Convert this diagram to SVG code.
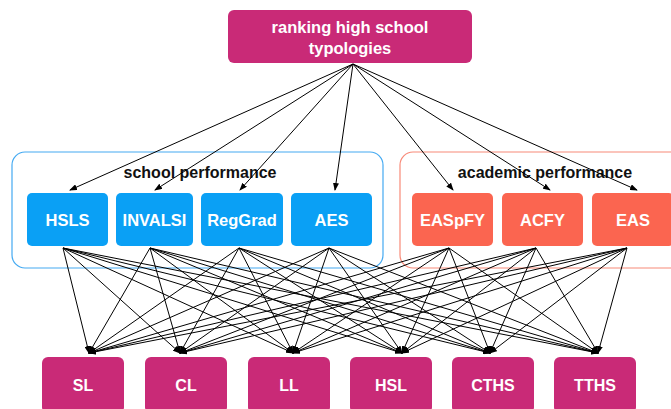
<svg xmlns="http://www.w3.org/2000/svg" width="671" height="409" viewBox="0 0 671 409">
  <style>
    .lbl { font-family: "Liberation Sans", Arial, Helvetica, sans-serif; font-weight: bold; fill: #ffffff; text-anchor: middle; }
    .root { fill: #C92A77; }
    .school { fill: #0AA0F5; }
    .academic { fill: #FB6550; }
    .typ { fill: #C92A77; }
    .title { font-family: "Liberation Sans", Arial, Helvetica, sans-serif; font-weight: bold; font-size: 16px; fill: #111111; text-anchor: middle; }
    .edge { stroke: #000000; stroke-width: 1; fill: none; marker-end: url(#arrow); }
  </style>
  <defs>
    <marker id="arrow" markerUnits="userSpaceOnUse" markerWidth="8" markerHeight="6" refX="7" refY="3" orient="auto">
      <path d="M0,0 L8,3 L0,6 Z" fill="#000000"/>
    </marker>
  </defs>

  <rect width="671" height="409" fill="#ffffff"/>

  <!-- group frames -->
  <g id="grp-school">
    <rect x="12" y="152" width="371" height="116" rx="13" fill="none" stroke="#45AAF2" stroke-width="1.2"/>
    <text class="title" x="200" y="178">school performance</text>
  </g>
  <g id="grp-academic">
    <rect x="400" y="152" width="290" height="116" rx="13" fill="none" stroke="#F88A78" stroke-width="1.2"/>
    <text class="title" x="545" y="178">academic performance</text>
  </g>

  <!-- connectors -->
  <g id="connectors">
    <!-- root to indicators -->
    <line class="edge" x1="353" y1="64" x2="70" y2="190"/>
    <line class="edge" x1="353" y1="64" x2="155" y2="190"/>
    <line class="edge" x1="353" y1="64" x2="240" y2="190"/>
    <line class="edge" x1="353" y1="64" x2="335" y2="190"/>
    <line class="edge" x1="353" y1="64" x2="453" y2="190"/>
    <line class="edge" x1="353" y1="64" x2="550" y2="190"/>
    <line class="edge" x1="353" y1="64" x2="637" y2="190"/>

    <!-- HSLS -->
    <line class="edge" x1="63" y1="248" x2="89" y2="353"/>
    <line class="edge" x1="63" y1="248" x2="180" y2="353"/>
    <line class="edge" x1="63" y1="248" x2="293" y2="353"/>
    <line class="edge" x1="63" y1="248" x2="402" y2="353"/>
    <line class="edge" x1="63" y1="248" x2="490" y2="353"/>
    <line class="edge" x1="63" y1="248" x2="598" y2="353"/>
    <!-- INVALSI -->
    <line class="edge" x1="150" y1="248" x2="89" y2="353"/>
    <line class="edge" x1="150" y1="248" x2="180" y2="353"/>
    <line class="edge" x1="150" y1="248" x2="293" y2="353"/>
    <line class="edge" x1="150" y1="248" x2="402" y2="353"/>
    <line class="edge" x1="150" y1="248" x2="490" y2="353"/>
    <line class="edge" x1="150" y1="248" x2="598" y2="353"/>
    <!-- RegGrad -->
    <line class="edge" x1="239" y1="248" x2="89" y2="353"/>
    <line class="edge" x1="239" y1="248" x2="180" y2="353"/>
    <line class="edge" x1="239" y1="248" x2="293" y2="353"/>
    <line class="edge" x1="239" y1="248" x2="402" y2="353"/>
    <line class="edge" x1="239" y1="248" x2="490" y2="353"/>
    <line class="edge" x1="239" y1="248" x2="598" y2="353"/>
    <!-- AES -->
    <line class="edge" x1="329" y1="248" x2="89" y2="353"/>
    <line class="edge" x1="329" y1="248" x2="180" y2="353"/>
    <line class="edge" x1="329" y1="248" x2="293" y2="353"/>
    <line class="edge" x1="329" y1="248" x2="402" y2="353"/>
    <line class="edge" x1="329" y1="248" x2="490" y2="353"/>
    <line class="edge" x1="329" y1="248" x2="598" y2="353"/>
    <!-- EASpFY -->
    <line class="edge" x1="449" y1="248" x2="89" y2="353"/>
    <line class="edge" x1="449" y1="248" x2="180" y2="353"/>
    <line class="edge" x1="449" y1="248" x2="293" y2="353"/>
    <line class="edge" x1="449" y1="248" x2="402" y2="353"/>
    <line class="edge" x1="449" y1="248" x2="490" y2="353"/>
    <line class="edge" x1="449" y1="248" x2="598" y2="353"/>
    <!-- ACFY -->
    <line class="edge" x1="536" y1="248" x2="89" y2="353"/>
    <line class="edge" x1="536" y1="248" x2="180" y2="353"/>
    <line class="edge" x1="536" y1="248" x2="293" y2="353"/>
    <line class="edge" x1="536" y1="248" x2="402" y2="353"/>
    <line class="edge" x1="536" y1="248" x2="490" y2="353"/>
    <line class="edge" x1="536" y1="248" x2="598" y2="353"/>
    <!-- EAS -->
    <line class="edge" x1="627" y1="248" x2="89" y2="353"/>
    <line class="edge" x1="627" y1="248" x2="180" y2="353"/>
    <line class="edge" x1="627" y1="248" x2="293" y2="353"/>
    <line class="edge" x1="627" y1="248" x2="402" y2="353"/>
    <line class="edge" x1="627" y1="248" x2="490" y2="353"/>
    <line class="edge" x1="627" y1="248" x2="598" y2="353"/>
  </g>

  <!-- root -->
  <g id="n-root">
    <rect class="root" x="228" y="10" width="244" height="53" rx="6"/>
    <text class="lbl" x="350" y="33" font-size="16.5">ranking high school</text>
    <text class="lbl" x="350" y="54" font-size="16.5">typologies</text>
  </g>

  <!-- school performance indicators -->
  <g id="n-hsls">
    <rect class="school" x="27" y="193" width="81" height="53" rx="5"/>
    <text class="lbl" x="67.5" y="226" font-size="16.5">HSLS</text>
  </g>
  <g id="n-invalsi">
    <rect class="school" x="116" y="193" width="77" height="53" rx="5"/>
    <text class="lbl" x="154.5" y="226" font-size="16.5">INVALSI</text>
  </g>
  <g id="n-reggrad">
    <rect class="school" x="201" y="193" width="82" height="53" rx="5"/>
    <text class="lbl" x="242" y="226" font-size="16.5">RegGrad</text>
  </g>
  <g id="n-aes">
    <rect class="school" x="291" y="193" width="81" height="53" rx="5"/>
    <text class="lbl" x="331.5" y="226" font-size="16.5">AES</text>
  </g>

  <!-- academic performance indicators -->
  <g id="n-easpfy">
    <rect class="academic" x="412" y="193" width="81" height="53" rx="5"/>
    <text class="lbl" x="452.5" y="226" font-size="16.5">EASpFY</text>
  </g>
  <g id="n-acfy">
    <rect class="academic" x="502" y="193" width="81" height="53" rx="5"/>
    <text class="lbl" x="542.5" y="226" font-size="16.5">ACFY</text>
  </g>
  <g id="n-eas">
    <rect class="academic" x="592" y="193" width="82" height="53" rx="5"/>
    <text class="lbl" x="633" y="226" font-size="16.5">EAS</text>
  </g>

  <!-- typologies -->
  <g id="n-sl">
    <rect class="typ" x="42" y="357" width="82" height="56" rx="6"/>
    <text class="lbl" x="83" y="391" font-size="16">SL</text>
  </g>
  <g id="n-cl">
    <rect class="typ" x="145" y="357" width="82" height="56" rx="6"/>
    <text class="lbl" x="186" y="391" font-size="16">CL</text>
  </g>
  <g id="n-ll">
    <rect class="typ" x="248" y="357" width="82" height="56" rx="6"/>
    <text class="lbl" x="289" y="391" font-size="16">LL</text>
  </g>
  <g id="n-hsl">
    <rect class="typ" x="350" y="357" width="82" height="56" rx="6"/>
    <text class="lbl" x="391" y="391" font-size="16">HSL</text>
  </g>
  <g id="n-cths">
    <rect class="typ" x="452" y="357" width="82" height="56" rx="6"/>
    <text class="lbl" x="493" y="391" font-size="16">CTHS</text>
  </g>
  <g id="n-tths">
    <rect class="typ" x="554" y="357" width="82" height="56" rx="6"/>
    <text class="lbl" x="595" y="391" font-size="16">TTHS</text>
  </g>
</svg>
